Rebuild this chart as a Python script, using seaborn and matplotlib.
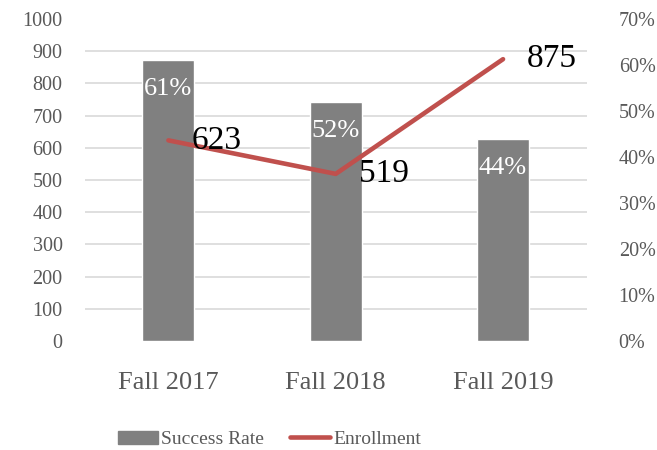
import matplotlib
matplotlib.use("Agg")
import matplotlib.pyplot as plt
import seaborn as sns
import pandas as pd
from matplotlib.patches import Patch
from matplotlib.lines import Line2D

terms = ["Fall 2017", "Fall 2018", "Fall 2019"]
success_rate = [0.61, 0.52, 0.44]
enrollment = [623, 519, 875]

BAR_COLOR = "#808080"
LINE_COLOR = "#C0504D"
TEXT_COLOR = "#595959"

df = pd.DataFrame({"Term": terms, "Success Rate": success_rate, "Enrollment": enrollment})

sns.set_theme(style="white")
plt.rcParams["font.family"] = ["Liberation Serif", "DejaVu Serif"]

fig = plt.figure(figsize=(6.57, 4.5), dpi=100)
ax = fig.add_axes([0.129, 0.242, 0.764, 0.716])

# bars on the percentage axis (shown on the right)
sns.barplot(data=df, x="Term", y="Success Rate", color=BAR_COLOR, width=0.31,
            saturation=1, ax=ax)
ax.set_ylim(0, 0.7)
ax.set_yticks([i / 10 for i in range(8)])
ax.set_yticklabels([f"{i * 10}%" for i in range(8)])
# gridlines follow the enrollment ticks (every 100), kept under the bars
ax.set_yticks([k * 0.07 for k in range(11)], minor=True)
ax.grid(axis="y", which="minor", color="#D9D9D9", linewidth=1.2)
ax.grid(axis="y", which="major", visible=False)
ax.set_axisbelow(True)
ax.set_xlim(-0.5, 2.5)

for i, v in enumerate(success_rate):
    ax.text(i, v - 0.063, f"{v:.0%}", ha="center", va="center",
            color="white", fontsize=19)

# line on the enrollment axis (shown on the left)
ax2 = ax.twinx()
sns.lineplot(data=df, x="Term", y="Enrollment", color=LINE_COLOR, linewidth=3.3,
             sort=False, ax=ax2)
ax2.set_ylim(0, 1000)
ax2.set_yticks(range(0, 1001, 100))
ax2.yaxis.tick_left()
ax.yaxis.tick_right()
for i, v in enumerate(enrollment):
    ax2.annotate(str(v), (i, v), xytext=(17, 0), textcoords="offset points",
                 ha="left", va="center", fontsize=24, color="black")

for a in (ax, ax2):
    a.set_xlabel("")
    a.set_ylabel("")
    for s in a.spines.values():
        s.set_visible(False)
    a.tick_params(axis="both", which="both", length=0, colors=TEXT_COLOR, labelsize=14.5)
ax2.tick_params(axis="y", pad=16)
ax.tick_params(axis="y", pad=23)
ax.tick_params(axis="x", labelsize=19, pad=22)

handles = [Patch(color=BAR_COLOR, label="Success Rate"),
           Line2D([0], [0], color=LINE_COLOR, linewidth=3.3, label="Enrollment")]
fig.legend(handles=handles, loc="lower center", ncol=2, frameon=False,
           bbox_to_anchor=(0.41, -0.035), fontsize=14, handlelength=2.1,
           handletextpad=0.15, columnspacing=1.3, labelcolor=TEXT_COLOR)

fig.savefig("out.png", dpi=100)
